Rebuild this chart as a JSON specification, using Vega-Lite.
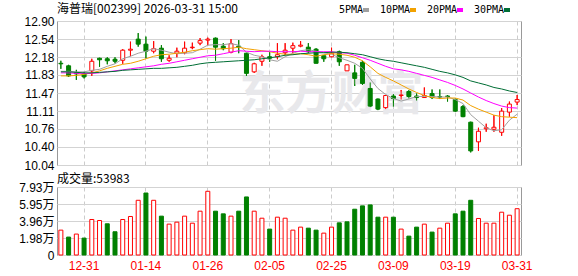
{
  "$schema": "https://vega.github.io/schema/vega-lite/v6.json",
  "padding": {"left": 0, "top": 2, "right": 0, "bottom": 0},
  "background": "#ffffff",
  "bounds": "flush",
  "spacing": 22,
  "config": {
    "view": {"stroke": "#999999", "strokeWidth": 1},
    "axis": {"labelFont": "Liberation Sans, Noto Sans CJK SC", "labelFontSize": 12, "labelColor": "#000000", "ticks": false, "domain": false, "title": null, "gridColor": "#d3d3d3", "gridWidth": 1, "labelOverlap": false},
    "title": {"font": "Noto Sans CJK SC", "fontSize": 12, "fontWeight": "normal", "color": "#000000", "anchor": "start", "frame": "group"}
  },
  "datasets": {
    "k": [
      {"date": "2025-12-26", "open": 12.06, "high": 12.11, "low": 11.95, "close": 12.05, "volume": 29000, "ma5": 11.90, "ma10": 11.81, "ma20": 11.87, "ma30": 11.89},
      {"date": "2025-12-29", "open": 12.01, "high": 12.03, "low": 11.79, "close": 11.81, "volume": 20900, "ma5": 11.90, "ma10": 11.81, "ma20": 11.87, "ma30": 11.89},
      {"date": "2025-12-30", "open": 11.87, "high": 11.93, "low": 11.73, "close": 11.85, "volume": 24400, "ma5": 11.89, "ma10": 11.82, "ma20": 11.86, "ma30": 11.88},
      {"date": "2025-12-31", "open": 11.85, "high": 11.89, "low": 11.76, "close": 11.79, "volume": 19700, "ma5": 11.89, "ma10": 11.84, "ma20": 11.86, "ma30": 11.87},
      {"date": "2026-01-05", "open": 11.91, "high": 12.15, "low": 11.81, "close": 12.10, "volume": 41400, "ma5": 11.92, "ma10": 11.87, "ma20": 11.86, "ma30": 11.87},
      {"date": "2026-01-06", "open": 12.16, "high": 12.17, "low": 11.99, "close": 12.13, "volume": 40200, "ma5": 11.94, "ma10": 11.91, "ma20": 11.87, "ma30": 11.88},
      {"date": "2026-01-07", "open": 12.15, "high": 12.18, "low": 12.04, "close": 12.11, "volume": 36400, "ma5": 12.00, "ma10": 11.96, "ma20": 11.89, "ma30": 11.89},
      {"date": "2026-01-08", "open": 12.14, "high": 12.18, "low": 12.06, "close": 12.10, "volume": 27100, "ma5": 12.05, "ma10": 12.00, "ma20": 11.91, "ma30": 11.90},
      {"date": "2026-01-09", "open": 12.12, "high": 12.34, "low": 12.05, "close": 12.32, "volume": 41400, "ma5": 12.15, "ma10": 12.04, "ma20": 11.93, "ma30": 11.92},
      {"date": "2026-01-12", "open": 12.32, "high": 12.49, "low": 12.20, "close": 12.34, "volume": 44900, "ma5": 12.20, "ma10": 12.06, "ma20": 11.95, "ma30": 11.93},
      {"date": "2026-01-13", "open": 12.54, "high": 12.66, "low": 12.39, "close": 12.44, "volume": 63800, "ma5": 12.26, "ma10": 12.10, "ma20": 11.97, "ma30": 11.94},
      {"date": "2026-01-14", "open": 12.44, "high": 12.59, "low": 12.16, "close": 12.30, "volume": 72300, "ma5": 12.30, "ma10": 12.15, "ma20": 11.99, "ma30": 11.95},
      {"date": "2026-01-15", "open": 12.30, "high": 12.50, "low": 12.26, "close": 12.35, "volume": 63800, "ma5": 12.35, "ma10": 12.20, "ma20": 12.01, "ma30": 11.96},
      {"date": "2026-01-16", "open": 12.36, "high": 12.42, "low": 12.09, "close": 12.15, "volume": 45300, "ma5": 12.32, "ma10": 12.23, "ma20": 12.04, "ma30": 11.96},
      {"date": "2026-01-19", "open": 12.12, "high": 12.22, "low": 12.09, "close": 12.16, "volume": 36000, "ma5": 12.28, "ma10": 12.24, "ma20": 12.06, "ma30": 11.97},
      {"date": "2026-01-20", "open": 12.26, "high": 12.37, "low": 12.18, "close": 12.30, "volume": 38300, "ma5": 12.25, "ma10": 12.26, "ma20": 12.09, "ma30": 11.98},
      {"date": "2026-01-21", "open": 12.27, "high": 12.49, "low": 12.24, "close": 12.36, "volume": 45300, "ma5": 12.26, "ma10": 12.28, "ma20": 12.12, "ma30": 12.00},
      {"date": "2026-01-22", "open": 12.37, "high": 12.47, "low": 12.34, "close": 12.38, "volume": 37100, "ma5": 12.27, "ma10": 12.31, "ma20": 12.15, "ma30": 12.02},
      {"date": "2026-01-23", "open": 12.46, "high": 12.56, "low": 12.42, "close": 12.51, "volume": 51100, "ma5": 12.34, "ma10": 12.33, "ma20": 12.18, "ma30": 12.05},
      {"date": "2026-01-26", "open": 12.52, "high": 12.57, "low": 12.42, "close": 12.54, "volume": 74300, "ma5": 12.42, "ma10": 12.35, "ma20": 12.21, "ma30": 12.07},
      {"date": "2026-01-27", "open": 12.56, "high": 12.57, "low": 12.11, "close": 12.38, "volume": 51100, "ma5": 12.43, "ma10": 12.34, "ma20": 12.22, "ma30": 12.08},
      {"date": "2026-01-28", "open": 12.40, "high": 12.46, "low": 12.32, "close": 12.35, "volume": 48000, "ma5": 12.43, "ma10": 12.35, "ma20": 12.25, "ma30": 12.09},
      {"date": "2026-01-29", "open": 12.28, "high": 12.54, "low": 12.26, "close": 12.45, "volume": 45300, "ma5": 12.45, "ma10": 12.36, "ma20": 12.28, "ma30": 12.10},
      {"date": "2026-01-30", "open": 12.40, "high": 12.52, "low": 12.26, "close": 12.38, "volume": 51100, "ma5": 12.42, "ma10": 12.38, "ma20": 12.31, "ma30": 12.11},
      {"date": "2026-02-02", "open": 12.26, "high": 12.27, "low": 11.81, "close": 11.86, "volume": 67700, "ma5": 12.28, "ma10": 12.35, "ma20": 12.30, "ma30": 12.12},
      {"date": "2026-02-03", "open": 11.89, "high": 12.07, "low": 11.87, "close": 12.05, "volume": 51100, "ma5": 12.22, "ma10": 12.33, "ma20": 12.29, "ma30": 12.13},
      {"date": "2026-02-04", "open": 12.10, "high": 12.23, "low": 12.01, "close": 12.19, "volume": 42900, "ma5": 12.19, "ma10": 12.31, "ma20": 12.30, "ma30": 12.15},
      {"date": "2026-02-05", "open": 12.19, "high": 12.28, "low": 12.09, "close": 12.16, "volume": 30200, "ma5": 12.13, "ma10": 12.29, "ma20": 12.30, "ma30": 12.17},
      {"date": "2026-02-06", "open": 12.19, "high": 12.46, "low": 12.14, "close": 12.23, "volume": 44100, "ma5": 12.10, "ma10": 12.26, "ma20": 12.29, "ma30": 12.19},
      {"date": "2026-02-09", "open": 12.27, "high": 12.46, "low": 12.22, "close": 12.32, "volume": 42900, "ma5": 12.19, "ma10": 12.24, "ma20": 12.29, "ma30": 12.22},
      {"date": "2026-02-10", "open": 12.36, "high": 12.47, "low": 12.26, "close": 12.41, "volume": 29000, "ma5": 12.26, "ma10": 12.24, "ma20": 12.29, "ma30": 12.23},
      {"date": "2026-02-11", "open": 12.40, "high": 12.50, "low": 12.38, "close": 12.42, "volume": 32500, "ma5": 12.31, "ma10": 12.25, "ma20": 12.30, "ma30": 12.25},
      {"date": "2026-02-12", "open": 12.38, "high": 12.46, "low": 12.26, "close": 12.29, "volume": 31300, "ma5": 12.33, "ma10": 12.23, "ma20": 12.29, "ma30": 12.26},
      {"date": "2026-02-13", "open": 12.34, "high": 12.36, "low": 12.06, "close": 12.06, "volume": 29000, "ma5": 12.30, "ma10": 12.20, "ma20": 12.29, "ma30": 12.27},
      {"date": "2026-02-24", "open": 12.21, "high": 12.21, "low": 12.09, "close": 12.15, "volume": 25500, "ma5": 12.27, "ma10": 12.23, "ma20": 12.29, "ma30": 12.27},
      {"date": "2026-02-25", "open": 12.19, "high": 12.37, "low": 12.18, "close": 12.26, "volume": 32500, "ma5": 12.24, "ma10": 12.25, "ma20": 12.29, "ma30": 12.28},
      {"date": "2026-02-26", "open": 12.29, "high": 12.31, "low": 12.01, "close": 12.09, "volume": 37500, "ma5": 12.17, "ma10": 12.24, "ma20": 12.27, "ma30": 12.28},
      {"date": "2026-02-27", "open": 11.91, "high": 12.03, "low": 11.91, "close": 12.03, "volume": 38700, "ma5": 12.12, "ma10": 12.22, "ma20": 12.26, "ma30": 12.27},
      {"date": "2026-03-02", "open": 11.87, "high": 12.03, "low": 11.61, "close": 11.76, "volume": 53400, "ma5": 12.06, "ma10": 12.18, "ma20": 12.22, "ma30": 12.25},
      {"date": "2026-03-03", "open": 12.08, "high": 12.11, "low": 11.63, "close": 11.66, "volume": 57300, "ma5": 11.96, "ma10": 12.11, "ma20": 12.17, "ma30": 12.23},
      {"date": "2026-03-04", "open": 11.56, "high": 11.68, "low": 11.19, "close": 11.21, "volume": 58400, "ma5": 11.75, "ma10": 11.99, "ma20": 12.12, "ma30": 12.19},
      {"date": "2026-03-05", "open": 11.35, "high": 11.36, "low": 11.13, "close": 11.15, "volume": 44100, "ma5": 11.56, "ma10": 11.86, "ma20": 12.06, "ma30": 12.15},
      {"date": "2026-03-06", "open": 11.18, "high": 11.43, "low": 11.15, "close": 11.42, "volume": 44100, "ma5": 11.44, "ma10": 11.78, "ma20": 12.00, "ma30": 12.12},
      {"date": "2026-03-09", "open": 11.41, "high": 11.45, "low": 11.20, "close": 11.36, "volume": 44100, "ma5": 11.36, "ma10": 11.71, "ma20": 11.95, "ma30": 12.10},
      {"date": "2026-03-10", "open": 11.42, "high": 11.53, "low": 11.34, "close": 11.43, "volume": 30200, "ma5": 11.31, "ma10": 11.63, "ma20": 11.93, "ma30": 12.07},
      {"date": "2026-03-11", "open": 11.50, "high": 11.53, "low": 11.36, "close": 11.40, "volume": 22000, "ma5": 11.35, "ma10": 11.55, "ma20": 11.90, "ma30": 12.04},
      {"date": "2026-03-12", "open": 11.41, "high": 11.46, "low": 11.32, "close": 11.38, "volume": 32500, "ma5": 11.40, "ma10": 11.48, "ma20": 11.86, "ma30": 12.01},
      {"date": "2026-03-13", "open": 11.38, "high": 11.58, "low": 11.38, "close": 11.42, "volume": 36000, "ma5": 11.40, "ma10": 11.42, "ma20": 11.82, "ma30": 11.98},
      {"date": "2026-03-16", "open": 11.46, "high": 11.54, "low": 11.35, "close": 11.38, "volume": 26700, "ma5": 11.40, "ma10": 11.38, "ma20": 11.78, "ma30": 11.94},
      {"date": "2026-03-17", "open": 11.40, "high": 11.54, "low": 11.35, "close": 11.39, "volume": 31300, "ma5": 11.39, "ma10": 11.36, "ma20": 11.73, "ma30": 11.90},
      {"date": "2026-03-18", "open": 11.41, "high": 11.43, "low": 11.30, "close": 11.40, "volume": 37100, "ma5": 11.39, "ma10": 11.37, "ma20": 11.68, "ma30": 11.87},
      {"date": "2026-03-19", "open": 11.34, "high": 11.36, "low": 11.10, "close": 11.11, "volume": 48000, "ma5": 11.34, "ma10": 11.37, "ma20": 11.62, "ma30": 11.83},
      {"date": "2026-03-20", "open": 11.20, "high": 11.23, "low": 10.99, "close": 11.00, "volume": 51100, "ma5": 11.26, "ma10": 11.33, "ma20": 11.55, "ma30": 11.78},
      {"date": "2026-03-23", "open": 10.89, "high": 10.90, "low": 10.29, "close": 10.32, "volume": 63800, "ma5": 11.04, "ma10": 11.22, "ma20": 11.47, "ma30": 11.71},
      {"date": "2026-03-24", "open": 10.50, "high": 10.78, "low": 10.32, "close": 10.71, "volume": 42600, "ma5": 10.91, "ma10": 11.15, "ma20": 11.39, "ma30": 11.67},
      {"date": "2026-03-25", "open": 10.76, "high": 10.86, "low": 10.70, "close": 10.78, "volume": 37100, "ma5": 10.78, "ma10": 11.09, "ma20": 11.32, "ma30": 11.63},
      {"date": "2026-03-26", "open": 10.75, "high": 11.03, "low": 10.70, "close": 10.79, "volume": 37100, "ma5": 10.72, "ma10": 11.03, "ma20": 11.26, "ma30": 11.58},
      {"date": "2026-03-27", "open": 10.69, "high": 11.17, "low": 10.62, "close": 11.11, "volume": 49900, "ma5": 10.74, "ma10": 11.00, "ma20": 11.21, "ma30": 11.55},
      {"date": "2026-03-30", "open": 11.09, "high": 11.30, "low": 11.00, "close": 11.25, "volume": 46400, "ma5": 10.93, "ma10": 10.99, "ma20": 11.18, "ma30": 11.51},
      {"date": "2026-03-31", "open": 11.29, "high": 11.43, "low": 11.23, "close": 11.34, "volume": 53983, "ma5": 11.05, "ma10": 10.98, "ma20": 11.17, "ma30": 11.48}
    ],
    "mark": [{"text": "东方财富", "date": "2026-02-25", "price": 11.43}]
  },
  "vconcat": [
    {
      "width": 464,
      "height": 144,
      "title": {"text": "海普瑞[002399] 2026-03-31 15:00", "offset": -1},
      "data": {"name": "k"},
      "encoding": {
        "x": {"field": "date", "type": "ordinal", "scale": {"type": "band", "paddingInner": 0, "paddingOuter": 0},
          "axis": {"labels": false, "grid": true, "gridDash": [4, 3], "gridColor": "#cccccc", "values": ["2025-12-31","2026-01-14","2026-01-26","2026-02-05","2026-02-25","2026-03-09","2026-03-19","2026-03-31"], "bandPosition": 0.5, "minExtent": 0, "maxExtent": 0}}
      },
      "layer": [
        {
          "mark": {"type": "rule", "strokeWidth": 1},
          "encoding": {
            "y": {"field": "low", "type": "quantitative", "scale": {"domain": [10.04, 12.90], "nice": false, "zero": false},
              "axis": {"values": [10.04, 10.40, 10.76, 11.11, 11.47, 11.83, 12.18, 12.54, 12.90], "format": ".2f", "labelPadding": 3, "minExtent": 56, "maxExtent": 56, "grid": true, "labelOverlap": false, "tickCount": 9}},
            "y2": {"field": "high"},
            "color": {"condition": {"test": "datum.close > datum.open", "value": "#ff0000"}, "value": "#008000"}
          }
        },
        {
          "data": {"name": "mark"},
          "mark": {"type": "text", "fontSize": 46, "fontWeight": "bold", "font": "Noto Sans CJK SC", "color": "#e8e8eb", "baseline": "middle", "align": "center"},
          "encoding": {
            "y": {"field": "price", "type": "quantitative"},
            "text": {"field": "text"}
          }
        },
        {
          "mark": {"type": "rule", "strokeWidth": 1},
          "encoding": {
            "y": {"field": "low", "type": "quantitative"},
            "y2": {"field": "high"},
            "color": {"condition": {"test": "datum.close > datum.open", "value": "#ff0000"}, "value": "#008000"}
          }
        },
        {
          "mark": {"type": "bar", "width": 4, "strokeWidth": 1},
          "encoding": {
            "y": {"field": "open", "type": "quantitative"},
            "y2": {"field": "close"},
            "fill": {"condition": {"test": "datum.close > datum.open", "value": "#ffffff"}, "value": "#008000"},
            "stroke": {"condition": {"test": "datum.close > datum.open", "value": "#ff0000"}, "value": "#008000"}
          }
        },
        {
          "transform": [{"fold": ["ma5", "ma10", "ma20", "ma30"], "as": ["ma", "value"]}],
          "mark": {"type": "line", "strokeWidth": 1},
          "encoding": {
            "x": {"field": "date", "type": "ordinal", "bandPosition": 0.5},
            "y": {"field": "value", "type": "quantitative"},
            "color": {"field": "ma", "type": "nominal",
              "scale": {"domain": ["ma5", "ma10", "ma20", "ma30"], "range": ["#a0a0a0", "#f2a100", "#ff00ff", "#006e35"]},
              "legend": {"orient": "none", "legendX": 304, "legendY": -16, "direction": "horizontal", "title": null,
                "symbolType": "stroke", "symbolSize": 36, "symbolStrokeWidth": 4, "labelAlign": "right", "labelOffset": -8,
                "columnPadding": 2, "labelFont": "DejaVu Sans Mono", "labelFontSize": 10, "labelColor": "#000000",
                "labelExpr": "replace(datum.value, 'ma', '') + 'PMA'"}}
          }
        }
      ]
    },
    {
      "width": 464,
      "height": 68,
      "title": {"text": "成交量:53983", "offset": -5},
      "data": {"name": "k"},
      "transform": [{"window": [{"op": "lag", "field": "close", "as": "prev"}]}],
      "mark": {"type": "bar", "width": 4, "strokeWidth": 1},
      "encoding": {
        "x": {"field": "date", "type": "ordinal", "scale": {"type": "band", "paddingInner": 0, "paddingOuter": 0},
          "axis": {"values": ["2025-12-31","2026-01-14","2026-01-26","2026-02-05","2026-02-25","2026-03-09","2026-03-19","2026-03-31"],
            "labelExpr": "substring(datum.label, 5, 10)", "labelAngle": 0, "labelColor": "#ff0000", "labelPadding": 5,
            "grid": true, "gridDash": [4, 3], "gridColor": "#cccccc", "bandPosition": 0.5}},
        "y": {"field": "volume", "type": "quantitative", "scale": {"domain": [0, 79300], "nice": false},
          "axis": {"values": [0, 19825, 39600, 59475, 79300], "labelExpr": "datum.value == 0 ? '0' : format(datum.value / 10000, '.2f') + '万'", "labelPadding": 3, "minExtent": 56, "maxExtent": 56}},
        "fill": {"condition": {"test": "datum.prev == null || datum.close >= datum.prev", "value": "#ffffff"}, "value": "#008000"},
        "stroke": {"condition": {"test": "datum.prev == null || datum.close >= datum.prev", "value": "#ff0000"}, "value": "#008000"}
      }
    }
  ]
}
